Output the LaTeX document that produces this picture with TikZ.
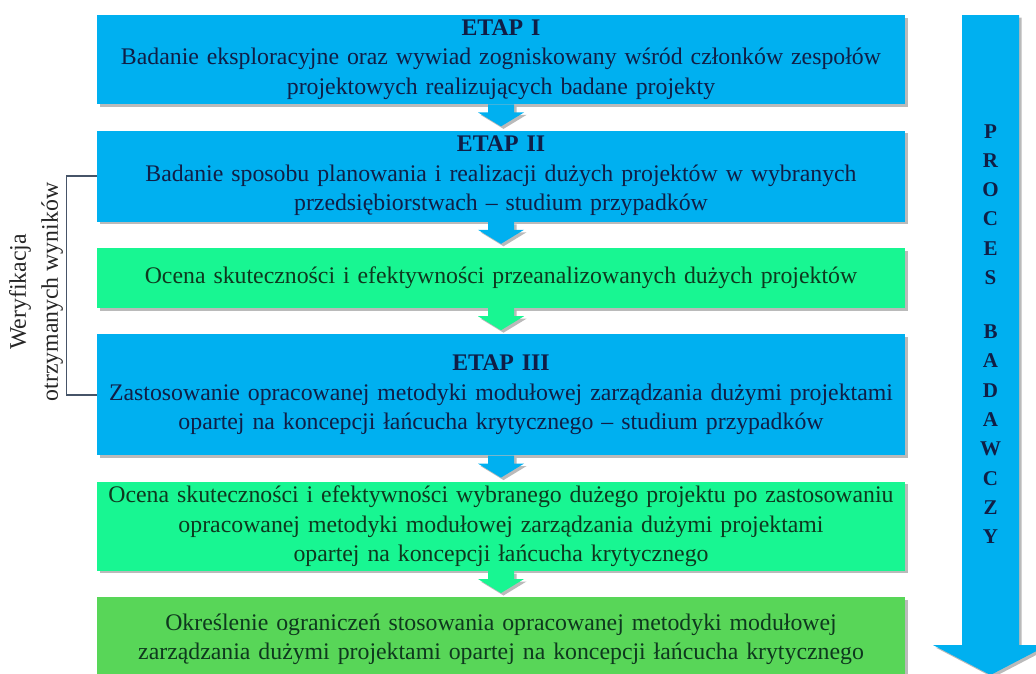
\documentclass[tikz,border=0pt]{standalone}
\usepackage{fontspec}
\setmainfont{Liberation Serif}
\usetikzlibrary{positioning, calc, shadows}

\definecolor{stageblue}{RGB}{0,176,240}
\definecolor{stagemint}{RGB}{24,246,146}
\definecolor{stagegreen}{RGB}{88,214,88}
\definecolor{inkblue}{RGB}{16,30,70}
\definecolor{inkgreen}{RGB}{14,56,30}
\definecolor{bracketgray}{RGB}{70,84,104}

\begin{document}
\begin{tikzpicture}[x=1pt, y=1pt, node distance=26pt,
    boxshadow/.style={drop shadow={shadow xshift=2.5pt, shadow yshift=-2.5pt, fill=black!45, opacity=0.6}},
    stage/.style={rectangle, boxshadow, minimum width=808pt, text width=800pt, inner sep=0pt, align=center,
        font=\fontsize{23.8}{29.5}\selectfont},
    bluestage/.style={stage, fill=stageblue, text=inkblue},
    mintstage/.style={stage, fill=stagemint, text=inkgreen}]

    \useasboundingbox (0,0) rectangle (1036,-673);

    \node[bluestage, minimum height=89pt, anchor=north] (etap1) at (501,-15)
        {\textbf{ETAP I}\\Badanie eksploracyjne oraz wywiad zogniskowany wśród członków zespołów\\projektowych realizujących badane projekty};
    \node[bluestage, minimum height=91pt, below=of etap1] (etap2)
        {\textbf{ETAP II}\\Badanie sposobu planowania i realizacji dużych projektów w wybranych\\przedsiębiorstwach -- studium przypadków};
    \node[mintstage, minimum height=60pt, below=of etap2] (ocena1)
        {Ocena skuteczności i efektywności przeanalizowanych dużych projektów};
    \node[bluestage, minimum height=121pt, below=of ocena1] (etap3)
        {\textbf{ETAP III}\\Zastosowanie opracowanej metodyki modułowej zarządzania dużymi projektami\\opartej na koncepcji łańcucha krytycznego -- studium przypadków};
    \node[mintstage, minimum height=89pt, below=of etap3] (ocena2)
        {Ocena skuteczności i efektywności wybranego dużego projektu po zastosowaniu\\opracowanej metodyki modułowej zarządzania dużymi projektami\\opartej na koncepcji łańcucha krytycznego};
    \node[stage, fill=stagegreen, text=inkgreen, minimum height=84pt, below=of ocena2] (ogran)
        {Określenie ograniczeń stosowania opracowanej metodyki modułowej\\zarządzania dużymi projektami opartej na koncepcji łańcucha krytycznego};

    \foreach \a/\b/\c in {etap1/etap2/stageblue, etap2/ocena1/stageblue, ocena1/etap3/stagemint,
                          etap3/ocena2/stageblue, ocena2/ogran/stagemint}
        \fill[\c, boxshadow] ($(\a.south)+(-13,0)$) -- ++(0,-8) -- ++(-10,0) -- ($(\b.north)+(0,4)$)
            -- ($(\a.south)+(23,-8)$) -- ++(-10,0) -- ++(0,8) -- cycle;

    \fill[stageblue, boxshadow] (962,-15) -- (1019,-15) -- (1019,-645) -- (1048,-645)
        -- (990.5,-675) -- (933,-645) -- (962,-645) -- cycle;
    \node[font=\fontsize{21}{29.3}\selectfont\bfseries, text=inkblue, align=center] (proces) at (990.5,-334)
        {P\\R\\O\\C\\E\\S\\[24.7pt]B\\A\\D\\A\\W\\C\\Z\\Y};

    \draw[bracketgray, line width=1.3pt] (etap2.west) -- ++(-30,0) |- (etap3.west);
    \node[rotate=90, align=center, font=\fontsize{23.8}{32}\selectfont, text=black!85] (weryf) at (36,-292)
        {Weryfikacja\\otrzymanych wyników};
\end{tikzpicture}
\end{document}
